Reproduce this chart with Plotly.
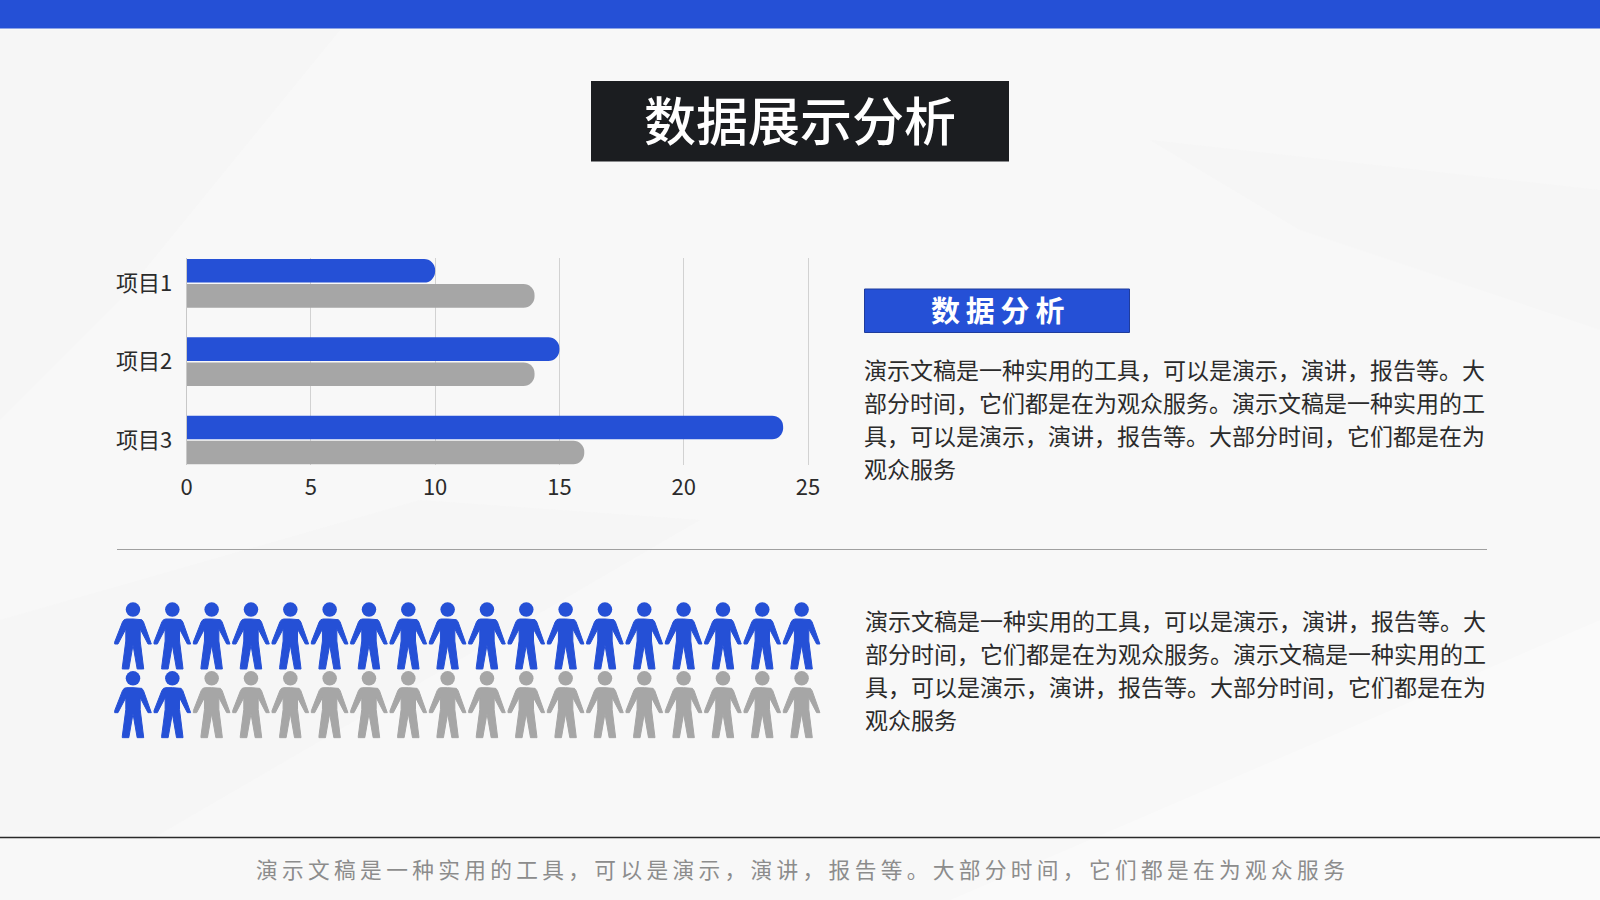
import plotly.graph_objects as go

W, H = 1600, 900
FONT = "Noto Sans CJK SC"
BLUE = "#2550d6"
GRAY = "#a6a6a6"
TEXT = "#2b2b2b"

# chart data
categories = ["项目1", "项目2", "项目3"]
series_blue = [10, 15, 24]
series_gray = [14, 14, 16]
x_ticks = [0, 5, 10, 15, 20, 25]

# pictogram data: people per row, and how many are blue
people_per_row = 18
blue_per_row = [18, 2]

# texts
title = "数据展示分析"
subtitle = "数据分析"
para_lines = [
    "演示文稿是一种实用的工具，可以是演示，演讲，报告等。大",
    "部分时间，它们都是在为观众服务。演示文稿是一种实用的工",
    "具，可以是演示，演讲，报告等。大部分时间，它们都是在为",
    "观众服务",
]
footer = "演示文稿是一种实用的工具，可以是演示，演讲，报告等。大部分时间，它们都是在为观众服务"

# person glyph, px relative to the middle of the shoulders, right half only
glyph_x = [0, 6.5, 8.8, 10.5, 18.3, 18.3, 15, 7.2, 7.2, 10.7, 10.7, 9.5, 4.2, 0]
glyph_y = [0, 0, 0.7, 3, 23, 25, 25, 10, 22, 48.5, 50, 50, 50, 26]
COL_PX, ROW_PX = 39.33, 68.67
FIRST_X, FIRST_Y = 133, 619
UNIT_PX = 24.86  # px per x axis unit in the bar chart


def px(x):
    return x / W


def py(y):
    return 1 - y / H


def people_traces(cells, color):
    # cells is a list of (col, row)
    xs, ys = [], []
    outline_x = glyph_x + [-v for v in reversed(glyph_x[:-1])]
    outline_y = glyph_y + list(reversed(glyph_y[:-1]))
    for col, row in cells:
        xs += [col + v / COL_PX for v in outline_x] + [None]
        ys += [row + v / ROW_PX for v in outline_y] + [None]
    body = go.Scatter(x=xs, y=ys, xaxis="x2", yaxis="y2", mode="lines", fill="toself",
                      fillcolor=color, line=dict(color=color, width=1), hoverinfo="skip")
    head = go.Scatter(x=[c for c, r in cells], y=[r - 9.4 / ROW_PX for c, r in cells],
                      xaxis="x2", yaxis="y2", mode="markers",
                      marker=dict(color=color, size=14.5, line=dict(width=0)), hoverinfo="skip")
    return [body, head]


fig = go.Figure()
fig.add_bar(y=categories, x=series_blue, orientation="h", marker=dict(color=BLUE, cornerradius=12, line=dict(width=0)))
fig.add_bar(y=categories, x=series_gray, orientation="h", marker=dict(color=GRAY, cornerradius=12, line=dict(width=0)))

blue_cells, gray_cells = [], []
for row, n_blue in enumerate(blue_per_row):
    for col in range(people_per_row):
        (blue_cells if col < n_blue else gray_cells).append((col, row))
for trace in people_traces(blue_cells, BLUE) + people_traces(gray_cells, GRAY):
    fig.add_trace(trace)

shapes = []


def rect(x0, y0, x1, y1, color, line=None, layer="below", opacity=1):
    shapes.append(dict(type="rect", xref="paper", yref="paper", x0=px(x0), x1=px(x1), y0=py(y0), y1=py(y1),
                       fillcolor=color, opacity=opacity, layer=layer,
                       line=dict(color=line, width=1) if line else dict(width=0)))


def hline(y, x0, x1, color, width):
    shapes.append(dict(type="line", xref="paper", yref="paper", x0=px(x0), x1=px(x1), y0=py(y), y1=py(y),
                       line=dict(color=color, width=width), layer="below"))


def swath(corners, color, opacity):
    # faint diagonal band of the paper texture
    path = "M" + " L".join(f"{px(x)},{py(y)}" for x, y in corners) + " Z"
    shapes.append(dict(type="path", xref="paper", yref="paper", path=path, fillcolor=color,
                       opacity=opacity, layer="below", line=dict(width=0)))


swath([(0, 30), (340, 30), (120, 300), (0, 420)], "#f1f1f1", 0.2)
swath([(1150, 140), (1600, 190), (1600, 330), (1300, 230)], "#eeeeee", 0.2)
swath([(950, 900), (1600, 620), (1600, 900)], "#ffffff", 0.3)
swath([(0, 620), (420, 500), (700, 520), (150, 840), (0, 830)], "#f2f2f2", 0.2)

rect(0, 0, W, 28.5, BLUE)
rect(591, 81, 1009, 161.5, "#1b1d20")
rect(864.5, 289, 1129.5, 332.5, BLUE, line="#1f3c9c")
hline(549.5, 117, 1487, "#a0a0a0", 1.2)
hline(837.5, 0, W, "#2a2a2a", 1.5)

annotations = []


def text(x, y, s, size, color, anchor="left", weight=None):
    annotations.append(dict(xref="paper", yref="paper", x=px(x), y=py(y), text=s, showarrow=False,
                            xanchor=anchor, yanchor="middle",
                            font=dict(family=FONT, size=size, color=color, weight=weight)))


text(800, 118, title, 52, "#ffffff", "center", 500)
text(997, 309, "\u2009".join(subtitle), 29, "#ffffff", "center", 700)
for i, line in enumerate(para_lines):
    text(862, 368.5 + i * 33.2, line, 23, TEXT)
    text(862.5, 619.5 + i * 33.2, line, 23, TEXT)
text(800, 868, "\u2009".join(footer), 21.7, "#8c8c8c", "center")

fig.update_layout(
    width=W, height=H, margin=dict(l=0, r=0, t=0, b=0, autoexpand=False), showlegend=False,
    paper_bgcolor="#f8f8f8", plot_bgcolor="rgba(0,0,0,0)",
    barmode="group", bargap=0.36, bargroupgap=0.06,
    font=dict(family=FONT, color=TEXT),
    shapes=shapes, annotations=annotations,
    # range runs a little past 25, plotly drops a gridline sitting on the plot edge
    xaxis=dict(domain=[px(186.5), px(186.5 + 25.2 * UNIT_PX)], range=[0, 25.2], tickvals=x_ticks, showgrid=True,
               gridcolor="#d2d2d2", gridwidth=1, zeroline=False, showline=False, ticks="",
               tickfont=dict(family=FONT, size=22, color=TEXT), ticklabelstandoff=7, automargin=False),
    yaxis=dict(domain=[py(465), py(258.3)], range=[2.32, -0.32], showgrid=False, zeroline=False,
               showline=True, linecolor="#c8c8c8", linewidth=1, ticks="", anchor="x", automargin=False,
               tickfont=dict(family=FONT, size=22, color=TEXT), ticklabelstandoff=9),
    xaxis2=dict(domain=[px(100), px(830)], range=[(100 - FIRST_X) / COL_PX, (830 - FIRST_X) / COL_PX],
                visible=False, anchor="y2"),
    yaxis2=dict(domain=[py(750), py(590)], range=[(750 - FIRST_Y) / ROW_PX, (590 - FIRST_Y) / ROW_PX],
                visible=False, anchor="x2"),
)

# the page's default body margin would push the figure off the window
fig.write_html("out.html", config={"displayModeBar": False},
               post_script="document.body.style.margin='0';document.body.style.overflow='hidden';")
